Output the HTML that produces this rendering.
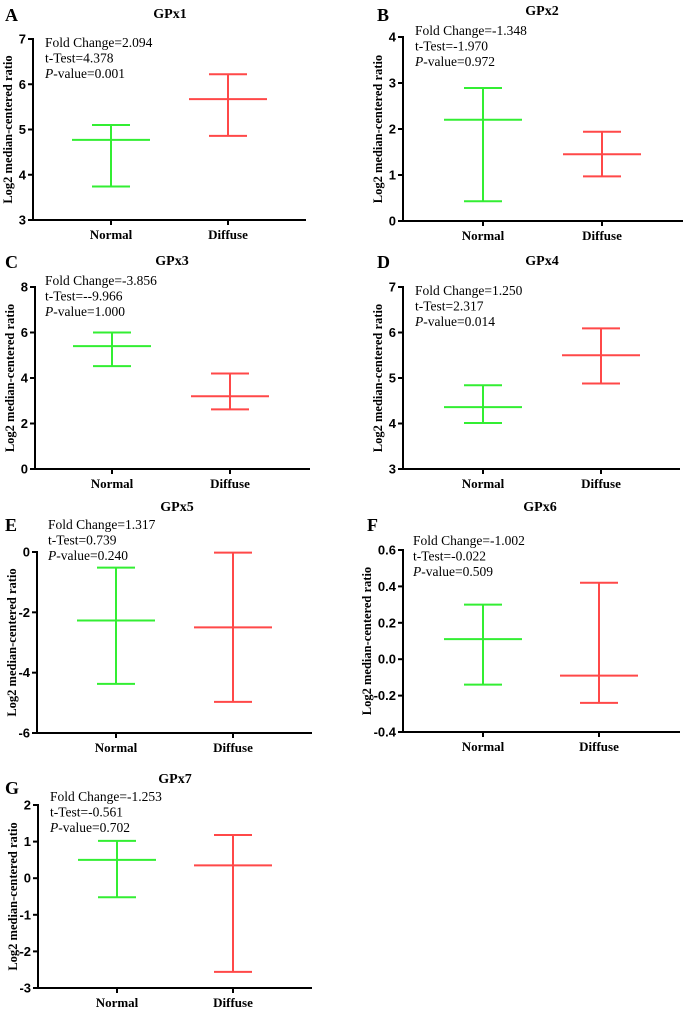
<!DOCTYPE html>
<html><head><meta charset="utf-8"><style>
html,body{margin:0;padding:0;background:#fff;}
svg{display:block;}
.tk{font:bold 13px "Liberation Sans",sans-serif;}
.yt{font:bold 12.5px "Liberation Serif",serif;}
.xl{font:bold 13px "Liberation Serif",serif;}
.ti{font:bold 14px "Liberation Serif",serif;}
.pl{font:bold 18px "Liberation Serif",serif;}
.st{font:13.5px "Liberation Serif",serif;}
</style></head><body>
<svg id="fig" width="685" height="1009" viewBox="0 0 685 1009" xmlns="http://www.w3.org/2000/svg"></svg>
<script>
const panelLetters=["A","B","C","D","E","F","G"];
const panelTitles=["GPx1","GPx2","GPx3","GPx4","GPx5","GPx6","GPx7"];
const categories=["Normal","Diffuse"];
const foldChanges=["2.094","-1.348","-3.856","1.250","1.317","-1.002","-1.253"];
const tTests=["4.378","-1.970","--9.966","2.317","0.739","-0.022","-0.561"];
const pValues=["0.001","0.972","1.000","0.014","0.240","0.509","0.702"];
const normalMean=[4.77,2.2,5.4,4.36,-2.27,0.11,0.5];
const normalLow=[3.74,0.43,4.52,4.01,-4.37,-0.14,-0.52];
const normalHigh=[5.1,2.89,6.0,4.84,-0.52,0.3,1.02];
const diffuseMean=[5.67,1.45,3.2,5.5,-2.5,-0.09,0.35];
const diffuseLow=[4.86,0.97,2.62,4.88,-4.97,-0.24,-2.56];
const diffuseHigh=[6.22,1.94,4.2,6.09,-0.02,0.42,1.18];
const yMin=[3,0,0,3,-6,-0.4,-3];
const yMax=[7,4,8,7,0,0.6,2];
const yStep=[1,1,2,1,2,0.2,1];
const tickDecimals=[0,0,0,0,0,1,0];

const layout=[
 {ax:33,top:39,bot:220,xe:306,c:[111,228],tx:170,ty:18,lx:5,ly:21,sx:45,sy:47},
 {ax:403,top:37,bot:221,xe:683,c:[483,602],tx:542,ty:15,lx:377,ly:21,sx:415,sy:35},
 {ax:35,top:287,bot:469,xe:310,c:[112,230],tx:172,ty:265,lx:5,ly:268,sx:45,sy:285},
 {ax:403,top:287,bot:469,xe:680,c:[483,601],tx:542,ty:265,lx:377,ly:268,sx:415,sy:295},
 {ax:37,top:552,bot:733,xe:312,c:[116,233],tx:177,ty:511,lx:5,ly:531,sx:48,sy:529},
 {ax:403,top:550,bot:732,xe:680,c:[483,599],tx:540,ty:511,lx:367,ly:531,sx:413,sy:545},
 {ax:38,top:805,bot:988,xe:312,c:[117,233],tx:175,ty:783,lx:5,ly:794,sx:50,sy:801}
];
const NS="http://www.w3.org/2000/svg";
const svg=document.getElementById('fig');
function mk(tag,attrs,parent,text){const e=document.createElementNS(NS,tag);for(const k in attrs)e.setAttribute(k,attrs[k]);if(text!==undefined)e.textContent=text;parent.appendChild(e);return e;}

for(let i=0;i<7;i++){
  const L=layout[i];
  const g=mk('g',{},svg);
  
  
  const y=v=>L.bot-(v-yMin[i])/(yMax[i]-yMin[i])*(L.bot-L.top);
  const lt=mk('text',{x:L.lx,y:L.ly,class:'pl'},g,panelLetters[i]);
  
  
  const ti=mk('text',{x:L.tx,y:L.ty,class:'ti','text-anchor':'middle'},g,panelTitles[i]);
  
  
  const ya=mk('line',{x1:L.ax,y1:L.top-1,x2:L.ax,y2:L.bot+1,stroke:'#000','stroke-width':2},g);
  
  
  const xa=mk('line',{x1:L.ax-1,y1:L.bot,x2:L.xe,y2:L.bot,stroke:'#000','stroke-width':2},g);
  
  
  const n=Math.round((yMax[i]-yMin[i])/yStep[i]);
  for(let k=0;k<=n;k++){
    const v=yMin[i]+k*yStep[i];const yy=y(v);
    mk('line',{x1:L.ax-5,y1:yy,x2:L.ax,y2:yy,stroke:'#000','stroke-width':2},g);
    const tl=mk('text',{x:L.ax-7,y:yy+4.5,class:'tk','text-anchor':'end'},g,v.toFixed(tickDecimals[i]));
    
    
  }
  const yc=(L.top+L.bot)/2, yx=L.ax-(tickDecimals[i]?32:21);
  const yt=mk('text',{x:yx,y:yc,class:'yt','text-anchor':'middle',transform:`rotate(-90 ${yx} ${yc})`},g,'Log2 median-centered ratio');
  
  
  const means=[normalMean[i],diffuseMean[i]],lows=[normalLow[i],diffuseLow[i]],highs=[normalHigh[i],diffuseHigh[i]];
  const cols=['#33ee33','#ff4848'];
  for(let c=0;c<2;c++){
    const cx=L.c[c];
    mk('line',{x1:cx,y1:L.bot,x2:cx,y2:L.bot+5,stroke:'#000','stroke-width':2},g);
    const xl=mk('text',{x:cx,y:L.bot+19,class:'xl','text-anchor':'middle'},g,categories[c]);
    
    
    const eg=mk('g',{stroke:cols[c],'stroke-width':2,fill:'none'},g);
    
    
    mk('line',{x1:cx,y1:y(highs[c]),x2:cx,y2:y(lows[c])},eg);
    mk('line',{x1:cx-39,y1:y(means[c]),x2:cx+39,y2:y(means[c])},eg);
    mk('line',{x1:cx-19,y1:y(highs[c]),x2:cx+19,y2:y(highs[c])},eg);
    mk('line',{x1:cx-19,y1:y(lows[c]),x2:cx+19,y2:y(lows[c])},eg);
  }
  const st=mk('g',{class:'st'},g);
  
  
  mk('text',{x:L.sx,y:L.sy},st,'Fold Change='+foldChanges[i]);
  mk('text',{x:L.sx,y:L.sy+15.5},st,'t-Test='+tTests[i]);
  const p=mk('text',{x:L.sx,y:L.sy+31},st);
  mk('tspan',{'font-style':'italic'},p,'P');
  mk('tspan',{},p,'-value='+pValues[i]);
}
</script>
</body></html>
